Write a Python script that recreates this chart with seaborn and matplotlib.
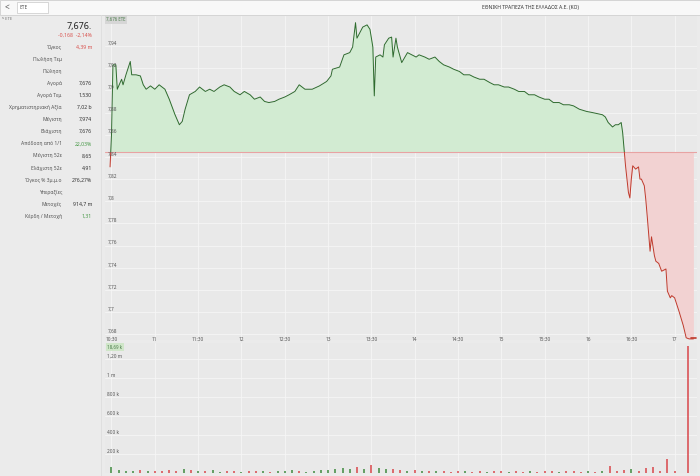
import numpy as np
import seaborn as sns
import matplotlib.pyplot as plt
from matplotlib.patches import Rectangle
from matplotlib.transforms import blended_transform_factory

# ---- data ----
price_times = ["10:29", "10:30", "10:31", "10:33", "10:34", "10:37", "10:38", "10:40", "10:43", "10:44",
               "10:47", "10:50", "10:52", "10:54", "10:57", "11:00", "11:03", "11:07", "11:10", "11:14",
               "11:17", "11:19", "11:21", "11:24", "11:28", "11:31", "11:35", "11:38", "11:41", "11:45",
               "11:48", "11:52", "11:55", "11:59", "12:02", "12:06", "12:09", "12:13", "12:16", "12:19",
               "12:23", "12:26", "12:30", "12:33", "12:37", "12:40", "12:44", "12:49", "12:54", "12:59",
               "13:02", "13:03", "13:08", "13:11", "13:15", "13:17", "13:19", "13:20", "13:22", "13:24",
               "13:27", "13:29", "13:31", "13:32", "13:33", "13:36", "13:38", "13:39", "13:42", "13:44",
               "13:45", "13:47", "13:48", "13:51", "13:55", "13:58", "14:01", "14:03", "14:07", "14:10",
               "14:14", "14:17", "14:20", "14:24", "14:27", "14:31", "14:34", "14:38", "14:41", "14:45",
               "14:48", "14:52", "14:55", "14:58", "15:02", "15:05", "15:09", "15:12", "15:16", "15:19",
               "15:23", "15:26", "15:30", "15:33", "15:36", "15:40", "15:43", "15:47", "15:50", "15:54",
               "15:59", "16:03", "16:10", "16:12", "16:14", "16:17", "16:18", "16:19", "16:21", "16:23",
               "16:24", "16:25", "16:26", "16:28", "16:29", "16:30", "16:31", "16:33", "16:35", "16:36",
               "16:37", "16:39", "16:40", "16:41", "16:43", "16:44", "16:46", "16:47", "16:49", "16:51",
               "16:54", "16:55", "16:57", "16:58", "17:00", "17:03", "17:06", "17:08", "17:10", "17:13"]
prices = [7.831, 7.860, 7.923, 7.923, 7.901, 7.910, 7.905, 7.914, 7.926, 7.914,
          7.914, 7.913, 7.905, 7.901, 7.904, 7.901, 7.905, 7.901, 7.892, 7.878,
          7.869, 7.872, 7.883, 7.896, 7.899, 7.903, 7.899, 7.901, 7.899, 7.903,
          7.905, 7.903, 7.899, 7.896, 7.899, 7.896, 7.892, 7.894, 7.890, 7.889,
          7.890, 7.892, 7.894, 7.896, 7.899, 7.905, 7.901, 7.901, 7.904, 7.908,
          7.913, 7.919, 7.921, 7.932, 7.934, 7.939, 7.961, 7.947, 7.952, 7.957,
          7.959, 7.955, 7.939, 7.895, 7.930, 7.932, 7.930, 7.941, 7.947, 7.948,
          7.930, 7.947, 7.939, 7.925, 7.934, 7.932, 7.930, 7.932, 7.930, 7.928,
          7.930, 7.926, 7.923, 7.921, 7.919, 7.917, 7.914, 7.914, 7.912, 7.910,
          7.910, 7.907, 7.905, 7.905, 7.903, 7.903, 7.901, 7.899, 7.899, 7.896,
          7.896, 7.894, 7.892, 7.892, 7.889, 7.889, 7.887, 7.887, 7.886, 7.883,
          7.881, 7.880, 7.878, 7.876, 7.871, 7.867, 7.868, 7.869, 7.869, 7.871,
          7.862, 7.847, 7.832, 7.808, 7.803, 7.820, 7.832, 7.829, 7.831, 7.820,
          7.820, 7.814, 7.802, 7.787, 7.755, 7.768, 7.751, 7.746, 7.744, 7.737,
          7.739, 7.719, 7.713, 7.715, 7.713, 7.701, 7.688, 7.677, 7.676, 7.676]
prev_close = 7.844

vol_times = ["10:30", "10:35", "10:40", "10:45", "10:50", "10:55", "11:00", "11:05", "11:10", "11:15",
             "11:20", "11:25", "11:30", "11:35", "11:40", "11:45", "11:50", "11:55", "12:00", "12:05",
             "12:10", "12:15", "12:20", "12:25", "12:30", "12:35", "12:40", "12:45", "12:50", "12:55",
             "13:00", "13:05", "13:10", "13:15", "13:20", "13:25", "13:30", "13:35", "13:40", "13:45",
             "13:50", "13:55", "14:00", "14:05", "14:10", "14:15", "14:20", "14:25", "14:30", "14:35",
             "14:40", "14:45", "14:50", "14:55", "15:00", "15:05", "15:10", "15:15", "15:20", "15:25",
             "15:30", "15:35", "15:40", "15:45", "15:50", "15:55", "16:00", "16:05", "16:10", "16:15",
             "16:20", "16:25", "16:30", "16:35", "16:40", "16:45", "16:50", "16:55", "17:00", "17:09"]
vol_values = [60, 30, 25, 20, 35, 20, 25, 20, 30, 25,
              40, 30, 25, 20, 30, 15, 20, 25, 15, 20,
              25, 20, 15, 20, 25, 30, 20, 15, 25, 30,
              35, 40, 50, 45, 60, 40, 80, 50, 40, 45,
              30, 25, 30, 20, 25, 20, 20, 15, 25, 20,
              15, 20, 15, 20, 25, 15, 20, 15, 20, 15,
              25, 20, 15, 20, 25, 15, 20, 15, 20, 70,
              25, 30, 40, 20, 50, 60, 20, 150, 25, 1340]  # thousands
vol_up = [1, 1, 1, 1, 0, 1, 0, 0, 0, 0,
          1, 0, 1, 0, 1, 1, 0, 0, 1, 0,
          0, 1, 0, 1, 1, 1, 0, 1, 1, 1,
          1, 1, 1, 1, 0, 1, 0, 1, 1, 0,
          0, 1, 0, 1, 0, 1, 0, 0, 0, 1,
          0, 0, 1, 0, 0, 1, 0, 0, 1, 0,
          0, 0, 1, 0, 0, 0, 1, 0, 1, 0,
          0, 0, 1, 0, 0, 0, 0, 0, 0, 0]

price_ticks = [7.68, 7.70, 7.72, 7.74, 7.76, 7.78, 7.80, 7.82, 7.84, 7.86, 7.88, 7.90, 7.92, 7.94]
price_tick_labels = ["7,68", "7,7", "7,72", "7,74", "7,76", "7,78", "7,8", "7,82", "7,84", "7,86",
                     "7,88", "7,9", "7,92", "7,94"]
vol_ticks = [200, 400, 600, 800, 1000, 1200]
vol_tick_labels = ["200 k", "400 k", "600 k", "800 k", "1 m", "1,20 m"]
time_ticks = ["10:30", "11:00", "11:30", "12:00", "12:30", "13:00", "13:30", "14:00", "14:30",
              "15:00", "15:30", "16:00", "16:30", "17:00"]
time_tick_labels = ["10:30", "11", "11:30", "12", "12:30", "13", "13:30", "14", "14:30",
                    "15", "15:30", "16", "16:30", "17"]

info_labels = ["Όγκος", "Πωλήση Τεμ", "Πώληση", "Αγορά", "Αγορά Τεμ", "Χρηματιστηριακή Αξία",
               "Μέγιστη", "Ελάχιστη", "Απόδοση από 1/1", "Μέγιστη 52ε", "Ελάχιστη 52ε",
               "Όγκος % 3μ.μ.ο", "Υπεραξίες", "Μετοχές", "Κέρδη / Μετοχή"]
info_values = ["4,39 m", "", "", "7,676", "1.530", "7,02 b", "7,974", "7,676", "22,03%",
               "8,65", "4,91", "276,27%", "", "914,7 m", "1,31"]
info_colors = ["#d9534f", "k", "k", "#333333", "#333333", "#333333", "#333333", "#333333", "#4a9a4a",
               "#333333", "#333333", "#333333", "k", "#333333", "#4a9a4a"]


def to_min(s):
    h, m = s.split(":")
    return (int(h) - 10) * 60 + int(m)


t = np.array([to_min(s) for s in price_times], dtype=float)
p = np.array(prices)
vt = np.array([to_min(s) for s in vol_times], dtype=float)
vv = np.array(vol_values) * 1000.0
vup = np.array(vol_up, dtype=bool)

sns.set_theme(style="whitegrid")
plt.rcParams["font.family"] = ["Noto Sans", "DejaVu Sans"]

W, H = 700, 476
fig = plt.figure(figsize=(7, 4.76), dpi=100)
fig.patch.set_facecolor("#ebebeb")

# top bar
fig.add_artist(Rectangle((0, 1 - 15 / H), 1, 15 / H, transform=fig.transFigure,
                         facecolor="#f8f8f8", edgecolor="#d0d0d0", lw=0.6))
fig.add_artist(Rectangle((17 / W, 1 - 13 / H), 31 / W, 11 / H, transform=fig.transFigure,
                         facecolor="white", edgecolor="#c8c8c8", lw=0.5))
fig.text(5 / W, 1 - 7.5 / H, "<", fontsize=6, color="#555555", va="center", ha="left")
fig.text(20 / W, 1 - 7.5 / H, "ETE", fontsize=3.5, color="#555555", va="center")
fig.text(530 / W, 1 - 7.5 / H, "ΕΘΝΙΚΗ ΤΡΑΠΕΖΑ ΤΗΣ ΕΛΛΑΔΟΣ Α.Ε. (ΚΟ)", fontsize=3.6,
         color="#333333", va="center", ha="center")
fig.text(2 / W, 1 - 19 / H, "ᴺ ETE", fontsize=3, color="#777777", va="center")

# left info panel
fig.add_artist(plt.Line2D([101 / W, 101 / W], [0, 1 - 15 / H], transform=fig.transFigure,
                          color="#dddddd", lw=0.6))
fig.text(92 / W, 1 - 26 / H, "7,676.", fontsize=6.5, color="#222222", ha="right", va="center")
fig.text(92 / W, 1 - 35.5 / H, "-0,168  -2,14%", fontsize=3.7, color="#d9534f", ha="right", va="center")
for i, (lab, val, col) in enumerate(zip(info_labels, info_values, info_colors)):
    y = 1 - (47 + i * 12.1) / H
    fig.text(62 / W, y, lab, fontsize=3.6, color="#555555", ha="right", va="center")
    if val:
        fig.text(92 / W, y, val, fontsize=3.7, color=col, ha="right", va="center")

# price panel
ax = fig.add_axes([105 / W, 1 - 340 / H, 592 / W, 324 / H])
ax.set_facecolor("#e9e9e9")
xlim = (25.5, 435.5)
ax.set_xlim(*xlim)
ax.set_ylim(7.675, 7.967)

above = np.maximum(p, prev_close)
below = np.minimum(p, prev_close)
ax.fill_between(t, prev_close, above, color="#d2ebd2", lw=0, zorder=1)
ax.fill_between(t, prev_close, below, color="#f2d2d2", lw=0, zorder=1)
ax.axhline(prev_close, color="#e8a3a3", lw=0.8, zorder=2)

sns.lineplot(x=t, y=p, ax=ax, color="#2e6b2e", lw=0.7, zorder=3, sort=False)
green_line = ax.lines[-1]
green_line.set_clip_path(Rectangle((xlim[0], prev_close), xlim[1] - xlim[0], 1, transform=ax.transData))
sns.lineplot(x=t, y=p, ax=ax, color="#c0392b", lw=0.7, zorder=3, sort=False)
red_line = ax.lines[-1]
red_line.set_clip_path(Rectangle((xlim[0], prev_close - 1), xlim[1] - xlim[0], 1, transform=ax.transData))
ax.plot([t[-1] - 1.5, t[-1] + 1.5], [p[-1] + 0.0005, p[-1] + 0.0005], color="#c0392b", lw=1.2,
        zorder=4, clip_on=False)

ax.set_yticks(price_ticks)
ax.set_yticklabels([])
ax.set_xticks([to_min(s) for s in time_ticks])
ax.set_xticklabels(time_tick_labels)
ax.tick_params(axis="x", length=0, pad=-2.5, labelsize=3.4, labelcolor="#555555")
ax.tick_params(axis="y", length=0)
ax.grid(True, color="#f6f6f6", lw=0.6)
for s in ax.spines.values():
    s.set_visible(False)
trans = blended_transform_factory(ax.transAxes, ax.transData)
for v, lab in zip(price_ticks, price_tick_labels):
    ax.text(0.004, v + 0.0027, lab, transform=trans, fontsize=3.4, color="#555555", va="center")
ax.text(0.002, 0.997, "7,676 ETE", transform=ax.transAxes, fontsize=3.2, color="#4a7a4a",
        va="top", ha="left", bbox=dict(boxstyle="square,pad=0.35", fc="#d6d6d6", ec="none"))
ax.set_xlabel("")
ax.set_ylabel("")

# volume panel
vx = fig.add_axes([105 / W, 1 - 473 / H, 592 / W, 130 / H])
vx.set_facecolor("#e9e9e9")
vx.set_xlim(*xlim)
vx.set_ylim(0, 1.368e6)
vx.vlines(vt[vup], 0, vv[vup], color="#3f8a3f", lw=1.1, zorder=3)
vx.vlines(vt[~vup], 0, vv[~vup], color="#d9464a", lw=1.1, zorder=3)
vx.set_xticks([to_min(s) for s in time_ticks])
vx.set_xticklabels([])
vx.set_yticks([v * 1000 for v in vol_ticks])
vx.set_yticklabels([])
vx.tick_params(length=0)
vx.grid(True, color="#f6f6f6", lw=0.6)
for s in vx.spines.values():
    s.set_visible(False)
vtrans = blended_transform_factory(vx.transAxes, vx.transData)
for v, lab in zip(vol_ticks, vol_tick_labels):
    vx.text(0.004, v * 1000 + 30000, lab, transform=vtrans, fontsize=3.4, color="#555555", va="center")
vx.text(0.004, 0.99, "18,69 k", transform=vx.transAxes, fontsize=3.2, color="#4a7a4a",
        va="top", ha="left", bbox=dict(boxstyle="square,pad=0.35", fc="#cfe6c8", ec="none"))

fig.savefig("out.png", dpi=100, facecolor=fig.get_facecolor())
